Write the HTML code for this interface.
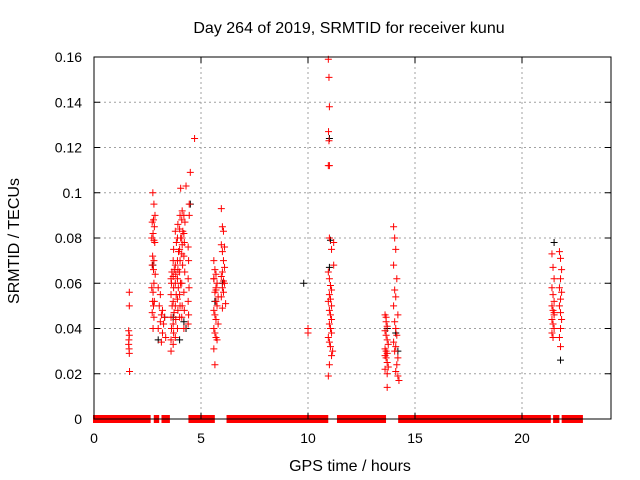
<!DOCTYPE html>
<html><head><meta charset="utf-8"><style>
body{margin:0;background:#fff}
svg{display:block}
text{font-family:"Liberation Sans",sans-serif;font-size:14px;fill:#000}
.big{font-size:16px}
</style></head><body>
<svg id="chart" width="640" height="480">
<text class="big" x="349" y="33" text-anchor="middle">Day 264 of 2019, SRMTID for receiver kunu</text>
<text class="big" x="350" y="471" text-anchor="middle">GPS time / hours</text>
<text class="big" transform="translate(19,241) rotate(-90)" text-anchor="middle">SRMTID / TECUs</text>
<g id="grid"></g>
<g id="marks"></g>
<g id="axes"></g>
</svg>
<script>
const xTicks=[0,5,10,15,20];
const yTicks=[0,0.02,0.04,0.06,0.08,0.1,0.12,0.14,0.16];
const yTickLabels=["0","0.02","0.04","0.06","0.08","0.1","0.12","0.14","0.16"];
const zeroSpans=[[0,1.67],[1.72,2.6],[2.84,3.0],[3.2,3.5],[4.46,4.65],[4.7,5.6],[6.24,10.9],[11.4,13.6],[14.26,21.3],[21.5,21.7],[21.9,22.8]];
const hoursRed=[1.65,1.65,1.62,1.65,1.63,1.62,1.64,1.65,1.66,
2.75,2.8,2.85,2.78,2.72,2.82,2.76,2.7,2.8,2.84,2.74,2.8,2.72,2.78,2.86,2.8,2.7,2.76,2.82,2.74,2.78,2.72,2.8,2.76,
3.0,3.1,3.05,3.2,3.15,3.3,3.1,3.25,3.0,3.2,3.35,3.15,
3.6,3.6,3.62,3.6,3.65,3.6,3.62,3.6,3.64,3.7,3.72,3.7,3.74,3.7,3.72,3.7,3.75,3.7,3.72,3.8,3.82,3.8,3.84,3.8,3.82,3.8,3.85,3.8,3.9,3.92,3.9,3.94,3.9,3.92,3.9,3.95,3.9,3.92,4.0,4.02,4.0,4.04,4.0,4.02,4.0,4.05,4.0,4.02,4.05,4.1,4.12,4.1,4.14,4.1,4.12,4.1,4.15,4.1,4.12,4.2,4.22,4.2,4.24,4.2,4.22,4.2,4.25,4.2,4.3,4.4,4.42,4.4,4.44,4.4,4.42,4.4,4.45,4.45,4.5,4.7,
5.6,5.65,5.7,5.6,5.75,5.7,5.65,5.8,5.7,5.75,5.6,5.65,5.7,5.8,5.6,5.65,5.7,5.75,5.6,5.65,5.6,5.7,
5.95,6.0,6.05,5.95,6.1,6.0,6.05,6.1,6.0,5.95,6.05,6.1,6.0,6.05,5.95,6.15,6.0,
10.0,10.0,
10.95,10.98,11.0,10.96,10.98,11.0,10.95,11.2,11.0,11.1,11.2,10.95,11.0,11.05,11.1,11.0,11.05,10.95,11.1,11.0,11.05,11.1,11.0,11.05,11.1,10.95,11.0,11.05,11.15,11.1,11.0,10.95,
13.6,13.65,13.7,13.6,13.65,13.7,13.75,13.6,13.65,13.7,13.6,13.65,13.7,13.75,13.6,13.7,13.65,13.7,
14.0,14.05,14.1,14.0,14.15,14.05,14.1,14.0,14.2,14.05,14.1,14.15,14.0,14.1,14.05,14.2,14.15,14.1,14.2,14.25,
21.4,21.45,21.5,21.4,21.45,21.5,21.4,21.45,21.5,21.4,21.45,21.5,21.4,21.45,21.5,
21.75,21.8,21.85,21.8,21.75,21.85,21.8,21.75,21.8,21.85,21.8,21.75,21.8];
const tecRed=[0.056,0.050,0.039,0.037,0.035,0.033,0.031,0.029,0.021,
0.100,0.095,0.090,0.088,0.087,0.085,0.082,0.080,0.079,0.078,0.072,0.070,0.068,0.066,0.064,0.060,0.058,0.056,0.052,0.052,0.050,0.047,0.045,0.040,
0.058,0.055,0.050,0.048,0.046,0.045,0.043,0.042,0.040,0.038,0.036,0.034,
0.030,0.035,0.040,0.045,0.050,0.055,0.060,0.062,0.065,0.033,0.038,0.042,0.047,0.052,0.058,0.063,0.066,0.070,0.075,0.036,0.044,0.050,0.055,0.060,0.064,0.068,0.078,0.083,0.040,0.048,0.053,0.058,0.062,0.066,0.070,0.074,0.080,0.086,0.045,0.050,0.055,0.060,0.065,0.070,0.075,0.080,0.084,0.090,0.102,0.045,0.050,0.060,0.068,0.073,0.077,0.080,0.083,0.088,0.092,0.040,0.048,0.056,0.065,0.072,0.078,0.082,0.087,0.090,0.103,0.042,0.046,0.052,0.058,0.062,0.070,0.076,0.090,0.095,0.109,0.124,
0.070,0.066,0.064,0.062,0.060,0.058,0.056,0.054,0.052,0.050,0.048,0.046,0.044,0.042,0.040,0.038,0.036,0.035,0.031,0.024,0.062,0.057,
0.093,0.085,0.083,0.077,0.076,0.074,0.070,0.067,0.065,0.063,0.061,0.060,0.058,0.056,0.054,0.051,0.049,
0.040,0.038,
0.159,0.151,0.138,0.127,0.123,0.112,0.112,0.078,0.080,0.075,0.068,0.065,0.062,0.059,0.057,0.055,0.053,0.052,0.050,0.048,0.046,0.044,0.042,0.040,0.038,0.036,0.034,0.032,0.030,0.028,0.024,0.019,
0.046,0.043,0.041,0.039,0.037,0.035,0.033,0.031,0.030,0.029,0.028,0.027,0.025,0.023,0.022,0.020,0.045,0.014,
0.085,0.080,0.075,0.068,0.062,0.057,0.054,0.050,0.046,0.043,0.040,0.037,0.034,0.032,0.030,0.027,0.024,0.021,0.019,0.017,
0.073,0.067,0.062,0.058,0.055,0.052,0.050,0.048,0.046,0.044,0.042,0.040,0.038,0.036,0.047,
0.074,0.071,0.066,0.062,0.058,0.056,0.053,0.050,0.047,0.044,0.040,0.036,0.032];
const hoursBlack=[2.75,3.0,3.3,3.7,4.0,4.2,4.3,4.5,5.65,6.0,9.8,11.0,11.05,11.0,13.7,14.1,14.2,21.5,21.8];
const tecBlack=[0.068,0.035,0.045,0.045,0.035,0.043,0.040,0.095,0.052,0.060,0.060,0.124,0.079,0.067,0.040,0.038,0.030,0.078,0.026];

const NS='http://www.w3.org/2000/svg';
const L=94,R=611,T=57,B=419,XMAX=(611-94)/21.4,YMAX=0.16;
const sx=h=>L+h/XMAX*(R-L);
const sy=v=>B-v/YMAX*(B-T);
function mk(tag,attrs,parent){const e=document.createElementNS(NS,tag);for(const k in attrs)e.setAttribute(k,attrs[k]);parent.appendChild(e);return e;}
const grid=document.getElementById('grid'),marks=document.getElementById('marks'),axes=document.getElementById('axes');
xTicks.forEach(t=>{
  const x=sx(t);
  if(t>0){const g=mk('line',{x1:x,x2:x,y1:T,y2:B,stroke:'#a0a0a0','stroke-dasharray':'2,3'},grid);
  }
  const tk=mk('path',{d:`M${x},${B}v-6M${x},${T}v6`,stroke:'#000'},axes);
  
  const lb=mk('text',{x:x,y:B+24,'text-anchor':'middle'},axes);lb.textContent=t;
  
});
yTicks.forEach((t,i)=>{
  const y=sy(t);
  if(i>0&&i<yTicks.length-1){const g=mk('line',{x1:L,x2:R,y1:y,y2:y,stroke:'#a0a0a0','stroke-dasharray':'2,3'},grid);
  }
  const tk=mk('path',{d:`M${L},${y}h6M${R},${y}h-6`,stroke:'#000'},axes);
  
  const lb=mk('text',{x:L-12,y:y+5,'text-anchor':'end'},axes);lb.textContent=yTickLabels[i];
  
});
const fr=mk('rect',{x:L,y:T,width:R-L,height:B-T,fill:'none',stroke:'#000'},axes);

function plus(h,v,c){const x=sx(h),y=sy(v);
  const p=mk('path',{d:`M${x-3.5},${y}h7M${x},${y-3.5}v7`,stroke:c,'stroke-width':1},marks);
  }
zeroSpans.forEach(s=>{
  const r=mk('rect',{x:sx(s[0])-1,y:sy(0)-4,width:sx(s[1])-sx(s[0])+2,height:8,fill:'#ff0000'},marks);
  
});
hoursBlack.forEach((h,i)=>plus(h,tecBlack[i],'#000'));
hoursRed.forEach((h,i)=>plus(h,tecRed[i],'#ff0000'));
const zl=mk('line',{x1:L,x2:R,y1:B,y2:B,stroke:'#000'},axes);

</script>
</body></html>
